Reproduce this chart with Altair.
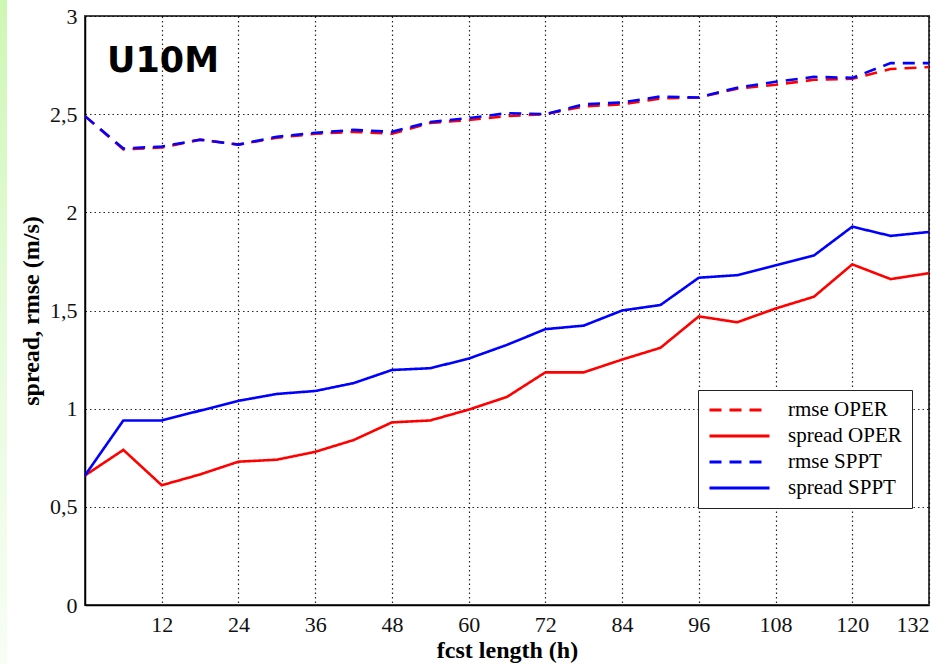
import altair as alt
import pandas as pd

# Forecast lead time (h)
hours = list(range(0, 133, 6))

# Ensemble verification, 10 m wind speed (m/s)
rmse_oper = [2.49, 2.32, 2.33, 2.37, 2.345, 2.38, 2.40, 2.41, 2.40, 2.455, 2.47, 2.49,
             2.50, 2.54, 2.55, 2.58, 2.585, 2.63, 2.65, 2.675, 2.68, 2.73, 2.74]
spread_oper = [0.66, 0.79, 0.61, 0.665, 0.73, 0.74, 0.78, 0.84, 0.93, 0.94, 0.995, 1.06,
               1.185, 1.185, 1.25, 1.31, 1.47, 1.44, 1.51, 1.57, 1.735, 1.66, 1.69]
rmse_sppt = [2.49, 2.325, 2.335, 2.37, 2.345, 2.385, 2.405, 2.42, 2.41, 2.46, 2.48, 2.505,
             2.50, 2.55, 2.56, 2.59, 2.585, 2.635, 2.665, 2.69, 2.685, 2.76, 2.76]
spread_sppt = [0.66, 0.94, 0.94, 0.99, 1.04, 1.075, 1.09, 1.13, 1.197, 1.206, 1.255, 1.325,
               1.405, 1.423, 1.50, 1.528, 1.667, 1.68, 1.73, 1.78, 1.927, 1.88, 1.90]

series_names = ["rmse OPER", "spread OPER", "rmse SPPT", "spread SPPT"]
series_colors = ["#ff0000", "#ff0000", "#0000ff", "#0000ff"]
series_dashes = [[12, 8], [1, 0], [12, 8], [1, 0]]

x_ticks = list(range(12, 133, 12))
y_ticks = [0, 0.5, 1, 1.5, 2, 2.5, 3]
panel_label = ["U10M"]

rows = []
for name, vals in zip(series_names, [rmse_oper, spread_oper, rmse_sppt, spread_sppt]):
    for h, v in zip(hours, vals):
        rows.append({"hour": h, "value": v, "series": name})
df = pd.DataFrame(rows)
label_df = pd.DataFrame({"label": panel_label})

SERIF = "Liberation Serif"

legend = alt.Legend(
    title=None,
    orient="none",
    legendX=613,
    legendY=374,
    symbolType="stroke",
    symbolSize=3600,
    symbolStrokeWidth=3,
    clipHeight=20,
    rowPadding=5,
    labelOffset=17,
    labelFont=SERIF,
    labelFontSize=21,
    labelColor="black",
    labelLimit=300,
    strokeColor="#222222",
    fillColor="white",
    padding=10,
)

lines = alt.Chart(df).mark_line(strokeWidth=2.6).encode(
    x=alt.X(
        "hour:Q",
        scale=alt.Scale(domain=[0, 132], nice=False, zero=False),
        axis=alt.Axis(
            values=x_ticks,
            title="fcst length (h)",
            ticks=False,
            labelPadding=9,
            titlePadding=3,
        ),
    ),
    y=alt.Y(
        "value:Q",
        scale=alt.Scale(domain=[0, 3], nice=False),
        axis=alt.Axis(
            values=y_ticks,
            title="spread, rmse (m/s)",
            ticks=False,
            labelPadding=8,
            titlePadding=6,
            labelExpr="replace(format(datum.value, ''), '.', ',')",
        ),
    ),
    color=alt.Color(
        "series:N",
        scale=alt.Scale(domain=series_names, range=series_colors),
        legend=legend,
    ),
    strokeDash=alt.StrokeDash(
        "series:N",
        scale=alt.Scale(domain=series_names, range=series_dashes),
        legend=legend,
    ),
)

# pale green edge strip along the left of the page
strip = alt.Chart(label_df).mark_rect(
    fill=alt.Gradient(
        gradient="linear",
        stops=[
            alt.GradientStop(color="#cdf7b5", offset=0),
            alt.GradientStop(color="#e6fbdc", offset=0.5),
            alt.GradientStop(color="#f7fef4", offset=1),
        ],
        x1=0, x2=0, y1=0, y2=1,
    )
).encode(
    x=alt.value(-85), x2=alt.value(-78), y=alt.value(-16), y2=alt.value(648)
)

panel = alt.Chart(label_df).mark_text(
    font="DejaVu Sans",
    fontWeight="bold",
    fontSize=35,
    align="left",
    baseline="alphabetic",
    color="black",
).encode(x=alt.value(22), y=alt.value(56), text="label:N")

chart = (
    alt.layer(strip, lines, panel)
    .properties(
        width=844,
        height=589,
        padding={"left": 85, "top": 16, "right": 20, "bottom": 59},
        autosize="none",
        background="white",
    )
    .configure_view(stroke="#444444", strokeWidth=2)
    .configure_axis(
        domainColor="black",
        domainWidth=1.5,
        grid=True,
        gridColor="black",
        gridDash=[1.5, 3],
        gridWidth=1.2,
        gridOpacity=0.85,
        labelFont=SERIF,
        labelFontSize=22,
        labelColor="#111111",
        titleFont=SERIF,
        titleFontSize=24,
        titleFontWeight="bold",
        titleColor="black",
    )
)

chart.save("out.html", embed_options={"renderer": "svg", "actions": False})
